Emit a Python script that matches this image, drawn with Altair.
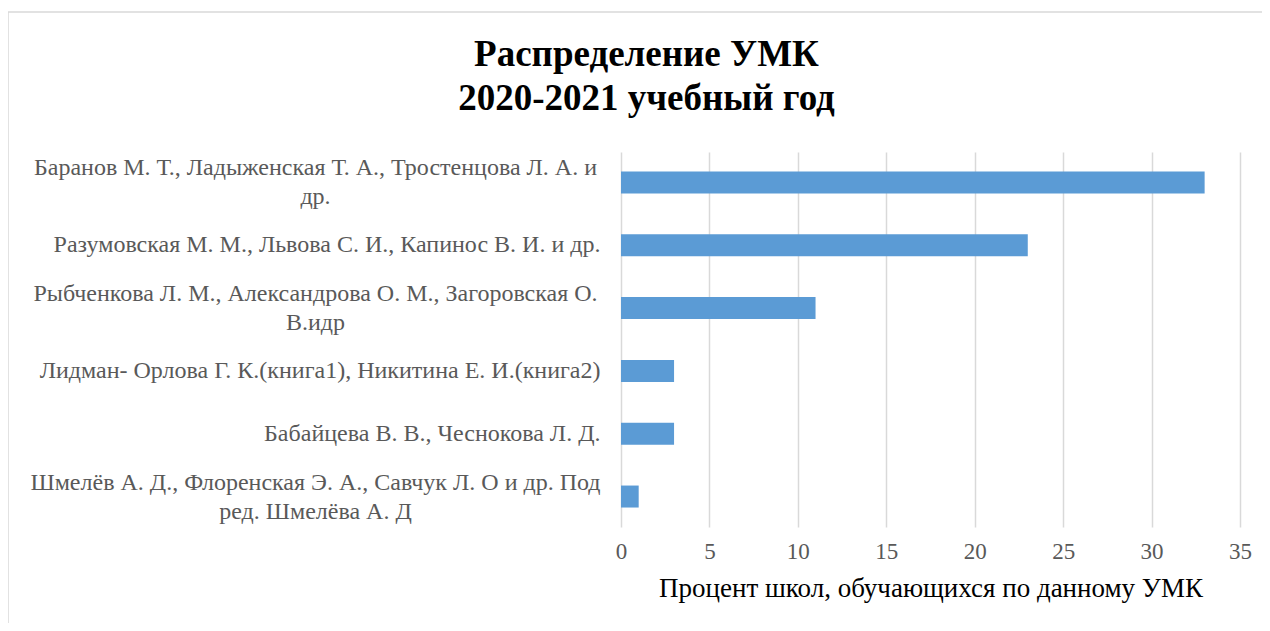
import altair as alt
import pandas as pd

labels = [
    "Баранов М. Т., Ладыженская Т. А., Тростенцова Л. А. и\nдр.",
    "Разумовская М. М., Львова С. И., Капинос В. И. и др.",
    "Рыбченкова Л. М., Александрова О. М., Загоровская О.\nВ.идр",
    "Лидман- Орлова Г. К.(книга1), Никитина Е. И.(книга2)",
    "Бабайцева В. В., Чеснокова Л. Д.",
    "Шмелёв А. Д., Флоренская Э. А., Савчук Л. О и др. Под\nред. Шмелёва А. Д",
]
values = [33, 23, 11, 3, 3, 1]
x_ticks = [0, 5, 10, 15, 20, 25, 30, 35]
title_lines = ["Распределение УМК", "2020-2021 учебный год"]
x_title = "Процент школ, обучающихся по данному УМК"

df = pd.DataFrame({"label": labels, "value": values})

FONT = "'Liberation Serif', 'Times New Roman', serif"
GREY = "#595959"
GRID = "#D9D9D9"

multi = "indexof(datum.value, '\\n') >= 0"

bars = alt.Chart(df).mark_bar(color="#5B9BD5").encode(
    x=alt.X(
        "value:Q",
        scale=alt.Scale(domain=[0, 35], nice=False, zero=True),
        axis=alt.Axis(
            values=x_ticks,
            title=x_title,
            grid=True,
            gridColor=GRID,
            gridWidth=1.5,
            domain=False,
            ticks=False,
            labelFlush=False,
            labelFont=FONT,
            labelFontSize=23,
            labelColor=GREY,
            labelPadding=13,
            titleFont=FONT,
            titleFontSize=27,
            titleFontWeight="normal",
            titleColor="#000000",
            titlePadding=12,
        ),
    ),
    y=alt.Y(
        "label:N",
        sort=labels,
        scale=alt.Scale(paddingInner=0.65, paddingOuter=0.31),
        axis=alt.Axis(
            title=None,
            domain=False,
            ticks=False,
            grid=False,
            labelFont=FONT,
            labelFontSize=24,
            labelColor=GREY,
            labelLimit=0,
            labelLineHeight=29,
            labelExpr="split(datum.label, '\\n')",
            labelAlign={"condition": {"test": multi, "value": "center"}, "value": "right"},
            labelPadding={"condition": {"test": multi, "value": 306}, "value": 21},
            labelOffset={"condition": {"test": multi, "value": -14}, "value": 0},
        ),
    ),
)

frame_data = alt.Data(values=[{"k": 1}])
top_line = alt.Chart(frame_data).mark_rule(color=GRID, strokeWidth=1.5).encode(
    x=alt.value(-613), x2=alt.value(649), y=alt.value(-140)
)
left_line = alt.Chart(frame_data).mark_rule(color=GRID, strokeWidth=1.5).encode(
    x=alt.value(-613), y=alt.value(-140), y2=alt.value(480)
)

chart = alt.layer(top_line, left_line, bars).properties(
    width=619,
    height=375,
    autosize=alt.AutoSizeParams(type="none"),
    padding={"left": 613, "top": 144, "right": 22, "bottom": 96},
    title=alt.TitleParams(
        text=title_lines,
        font=FONT,
        fontSize=37,
        fontWeight="bold",
        color="#000000",
        lineHeight=44,
        anchor="middle",
        dx=-284,
        offset=-107,
    ),
).configure_view(stroke=None)

chart.save("out.html", embed_options={"renderer": "svg", "actions": False})
